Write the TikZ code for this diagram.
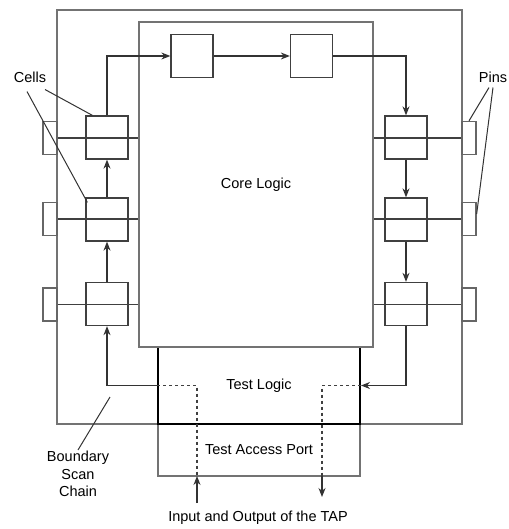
\documentclass[tikz,border=0pt]{standalone}
\usepackage{fontspec}
\setmainfont{Liberation Sans}
\usepackage{tikz}
\usetikzlibrary{positioning,arrows.meta,calc}

\begin{document}
\begin{tikzpicture}[x=1pt,y=-1pt,font=\fontsize{14.5}{17.5}\selectfont,
  box/.style={draw=black!55,line width=1.4pt,inner sep=0pt},
  cell/.style={draw=black!75,line width=1.3pt,minimum width=42pt,minimum height=43pt,inner sep=0pt},
  pin/.style={draw=black!60,line width=1.3pt,minimum width=14pt,minimum height=33pt,inner sep=0pt},
  chain/.style={draw=black!80,line width=1.2pt,-{Stealth[length=9pt,width=7pt]}},
  wire/.style={draw=black!75,line width=1.1pt},
  lead/.style={draw=black!80,line width=1pt},
  lbl/.style={inner sep=1pt,align=center}]
\useasboundingbox (0,0) rectangle (508,529);

\node[box,minimum width=405pt,minimum height=414pt] (chip) at (259.5,217) {};
\node[box,minimum width=202pt,minimum height=52pt] (tap) at (259,450) {Test Access Port};
\node[box,draw=black,line width=2pt,minimum width=202pt,minimum height=77pt] (tl) at (259,385.5) {Test Logic};
\node[box,minimum width=234pt,minimum height=325pt] (core) at (256,184.5) {Core Logic};

% pins
\node[pin] (pL1) at (50,138) {};
\node[pin] (pL2) at (50,219) {};
\node[pin] (pL3) at (50,304.5) {};
\node[pin] (pR1) at (469,138) {};
\node[pin] (pR2) at (469,219) {};
\node[pin] (pR3) at (469,304.5) {};

% cells
\node[cell] (cL1) at (107,137.5) {};
\node[cell] (cL2) at (107,219.5) {};
\node[cell] (cL3) at (107,304) {};
\node[cell] (cT1) at (192,56) {};
\node[cell] (cT2) at (311.5,56) {};
\node[cell] (cR1) at (406,137.5) {};
\node[cell] (cR2) at (406,219.5) {};
\node[cell] (cR3) at (406,304) {};

\foreach \p in {1,2,3} {
  \draw[wire] (pL\p.east) -- (pL\p.east -| core.west);
  \draw[wire] (pR\p.west) -- (pR\p.west -| core.east);
}

% scan chain
\draw[chain] (tl.west) -| (cL3.south);
\draw[chain] (cL3.north) -- (cL2.south);
\draw[chain] (cL2.north) -- (cL1.south);
\draw[chain] (cL1.north) |- (cT1.west);
\draw[chain] (cT1.east) -- (cT2.west);
\draw[chain] (cT2.east) -| (cR1.north);
\draw[chain] (cR1.south) -- (cR2.north);
\draw[chain] (cR2.south) -- (cR3.north);
\draw[chain] (cR3.south) |- (tl.east);

% TAP in/out
\coordinate (inTop) at (197,476);
\coordinate (inBot) at (197,503);
\coordinate (outTop) at (322,476);
\coordinate (outBot) at (322,497);
\draw[draw=black!75,line width=1.1pt,dashed] (tl.west) -| (inTop);
\draw[draw=black!75,line width=1.1pt,dashed] (tl.east) -| (outTop);
\draw[chain] (inBot) -- (inTop);
\draw[chain] (outTop) -- (outBot);

% labels
\node[lbl] (cellsLbl) at (30,77) {Cells};
\node[lbl] (pinsLbl) at (493,77) {Pins};
\node[lbl] (bscLbl) at (78,474) {Boundary\\Scan\\Chain};
\node[lbl] (tapLbl) at (258,518) {Input and Output of the TAP};
\coordinate (bscEnd) at (110,397);

\draw[lead] ($(cellsLbl.south)+(15,6)$) -- ($(cL1.north west)+(7,0)$);
\draw[lead] ($(cellsLbl.south)+(-3,8)$) -- ($(cL2.north west)+(2,5)$);
\draw[lead] ($(pinsLbl.south)+(-4,4)$) -- (pR1.north);
\draw[lead] ($(pinsLbl.south)+(0,4)$) -- ($(pR2.east)+(0,-5)$);
\draw[lead] (bscLbl.north) -- (bscEnd);
\end{tikzpicture}
\end{document}
